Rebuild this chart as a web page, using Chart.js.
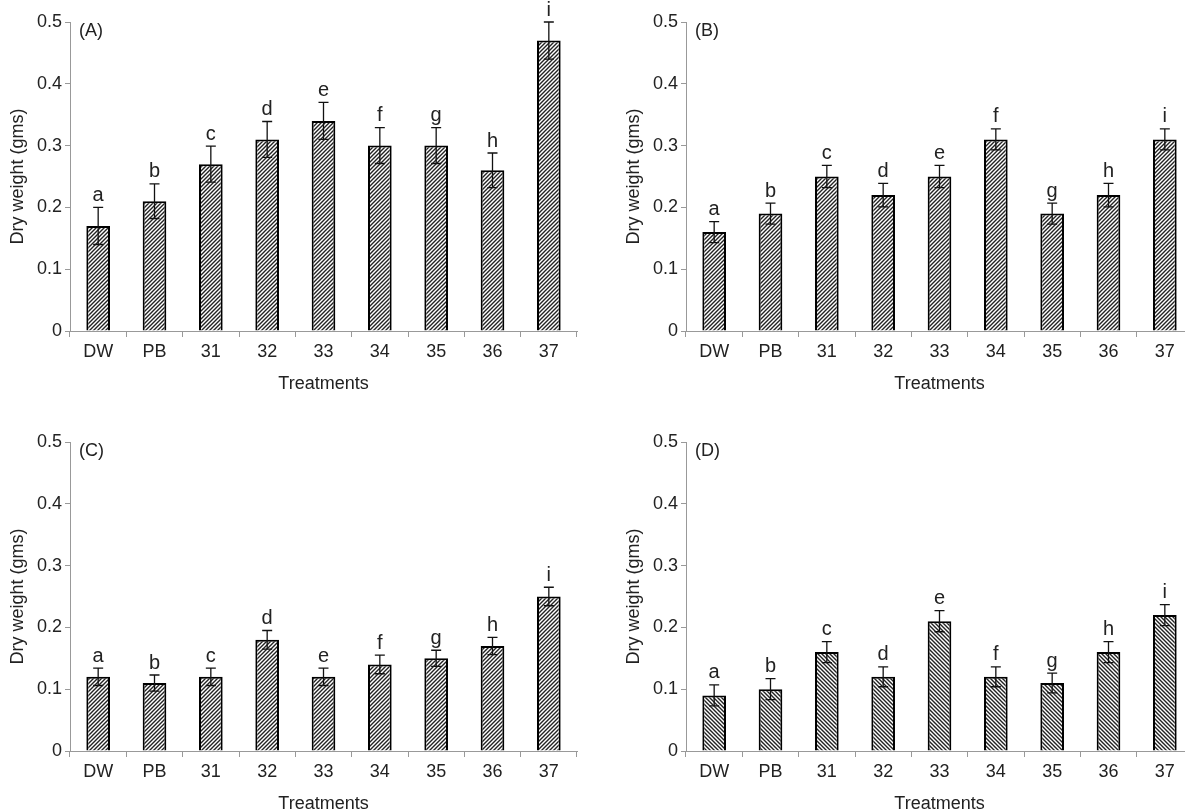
<!DOCTYPE html>
<html>
<head>
<meta charset="utf-8">
<script src="https://cdn.jsdelivr.net/npm/chart.js@4.4.1/dist/chart.umd.min.js"></script>
<style>
    html, body { margin: 0; padding: 0; background: #fff; }
    body { width: 1185px; height: 812px; overflow: hidden; position: relative; }
    canvas { position: absolute; }
</style>
</head>
<body>
<canvas id="chartA" width="592" height="406" style="left:0px;top:0px"></canvas>
<canvas id="chartB" width="592" height="406" style="left:616px;top:0px"></canvas>
<canvas id="chartC" width="592" height="406" style="left:0px;top:420px"></canvas>
<canvas id="chartD" width="592" height="406" style="left:616px;top:420px"></canvas>
<script>
const treatments = ['DW', 'PB', '31', '32', '33', '34', '35', '36', '37'];
const letters = ['a', 'b', 'c', 'd', 'e', 'f', 'g', 'h', 'i'];
const yTicks = [0, 0.1, 0.2, 0.3, 0.4, 0.5];

const weightA = [0.17, 0.21, 0.27, 0.31, 0.34, 0.30, 0.30, 0.26, 0.47];
const errA    = [0.03, 0.028, 0.029, 0.029, 0.03, 0.029, 0.029, 0.028, 0.03];

const weightB = [0.16, 0.19, 0.25, 0.22, 0.25, 0.31, 0.19, 0.22, 0.31];
const errB    = [0.017, 0.017, 0.018, 0.019, 0.018, 0.017, 0.017, 0.019, 0.017];

const weightC = [0.12, 0.11, 0.12, 0.18, 0.12, 0.14, 0.15, 0.17, 0.25];
const errC    = [0.014, 0.013, 0.014, 0.015, 0.014, 0.015, 0.013, 0.014, 0.015];

const weightD = [0.09, 0.10, 0.16, 0.12, 0.21, 0.12, 0.11, 0.16, 0.22];
const errD    = [0.017, 0.017, 0.017, 0.016, 0.017, 0.016, 0.016, 0.017, 0.017];

const fontFamily = '"Liberation Sans", Arial, sans-serif';
const textColor = '#222';
const axisColor = '#999';

function makeHatch(forward) {
    let c = document.createElement('canvas');
    c.width = 4;
    c.height = 4;
    let g = c.getContext('2d');
    g.fillStyle = '#fff';
    g.fillRect(0, 0, 4, 4);
    g.strokeStyle = '#222';
    g.lineWidth = 1.4;
    g.beginPath();
    if (forward) {
        g.moveTo(-1, 5); g.lineTo(5, -1);
        g.moveTo(-1, 1); g.lineTo(1, -1);
        g.moveTo(3, 5); g.lineTo(5, 3);
    } else {
        g.moveTo(-1, -1); g.lineTo(5, 5);
        g.moveTo(3, -1); g.lineTo(5, 1);
        g.moveTo(-1, 3); g.lineTo(1, 5);
    }
    g.stroke();
    return g.createPattern(c, 'repeat');
}

// error bars, significance letters and the panel tag
const extrasPlugin = {
    id: 'extras',
    afterDatasetsDraw(chart, args, opts) {
        let ctx = chart.ctx;
        let x = chart.scales.x;
        let y = chart.scales.y;
        let values = chart.data.datasets[0].data;
        ctx.save();
        ctx.strokeStyle = '#111';
        ctx.lineWidth = 1.3;
        ctx.fillStyle = textColor;
        ctx.textAlign = 'center';
        ctx.textBaseline = 'bottom';
        ctx.font = '20px ' + fontFamily;
        values.forEach(function(v, i) {
            let px = x.getPixelForValue(i);
            let top = y.getPixelForValue(v + opts.errors[i]);
            let bottom = y.getPixelForValue(v - opts.errors[i]);
            ctx.beginPath();
            ctx.moveTo(px, top);
            ctx.lineTo(px, bottom);
            ctx.moveTo(px - 5, top);
            ctx.lineTo(px + 5, top);
            ctx.moveTo(px - 5, bottom);
            ctx.lineTo(px + 5, bottom);
            ctx.stroke();
            ctx.fillText(opts.letters[i], px, top - 2);
        });
        ctx.textAlign = 'left';
        ctx.textBaseline = 'middle';
        ctx.font = '18px ' + fontFamily;
        ctx.fillText(opts.tag, chart.chartArea.left + 9, chart.chartArea.top + 9);
        ctx.restore();
    }
};

function createPanel(chartId, tag, values, errors, forwardHatch) {
    let ctx = document.getElementById(chartId).getContext('2d');
    const config = {
        type: 'bar',
        data: {
            labels: treatments,
            datasets: [{
                data: values,
                backgroundColor: makeHatch(forwardHatch),
                borderColor: '#000',
                borderWidth: 2,
                barPercentage: 0.42,
                categoryPercentage: 1.0
            }]
        },
        options: {
            responsive: false,
            animation: false,
            devicePixelRatio: 1,
            layout: {
                padding: { top: 22, right: 15, left: 0, bottom: 0 }
            },
            plugins: {
                legend: { display: false },
                tooltip: { enabled: false },
                extras: { errors: errors, letters: letters, tag: tag }
            },
            scales: {
                x: {
                    afterFit: function(scale) { scale.height = 75; },
                    grid: {
                        display: true,
                        drawOnChartArea: false,
                        tickLength: 6,
                        color: axisColor
                    },
                    border: { color: axisColor, width: 1 },
                    ticks: {
                        color: textColor,
                        padding: 4,
                        font: { family: fontFamily, size: 18 }
                    },
                    title: {
                        display: true,
                        text: 'Treatments',
                        color: textColor,
                        padding: { top: 0, bottom: 11 },
                        font: { family: fontFamily, size: 18 }
                    }
                },
                y: {
                    min: 0,
                    max: 0.5,
                    afterFit: function(scale) { scale.width = 70; },
                    afterBuildTicks: function(scale) {
                        scale.ticks = yTicks.map(function(v) { return { value: v }; });
                    },
                    grid: {
                        display: true,
                        drawOnChartArea: false,
                        tickLength: 5,
                        color: axisColor
                    },
                    border: { color: axisColor, width: 1 },
                    ticks: {
                        color: textColor,
                        padding: 3,
                        font: { family: fontFamily, size: 18 },
                        callback: function(v) { return v === 0 ? '0' : v.toFixed(1); }
                    },
                    title: {
                        display: true,
                        text: 'Dry weight (gms)',
                        color: textColor,
                        padding: { top: 7, bottom: 0 },
                        font: { family: fontFamily, size: 18 }
                    }
                }
            }
        },
        plugins: [extrasPlugin]
    };
    new Chart(ctx, config);
}

createPanel('chartA', '(A)', weightA, errA, true);
createPanel('chartB', '(B)', weightB, errB, true);
createPanel('chartC', '(C)', weightC, errC, true);
createPanel('chartD', '(D)', weightD, errD, false);
</script>
</body>
</html>
